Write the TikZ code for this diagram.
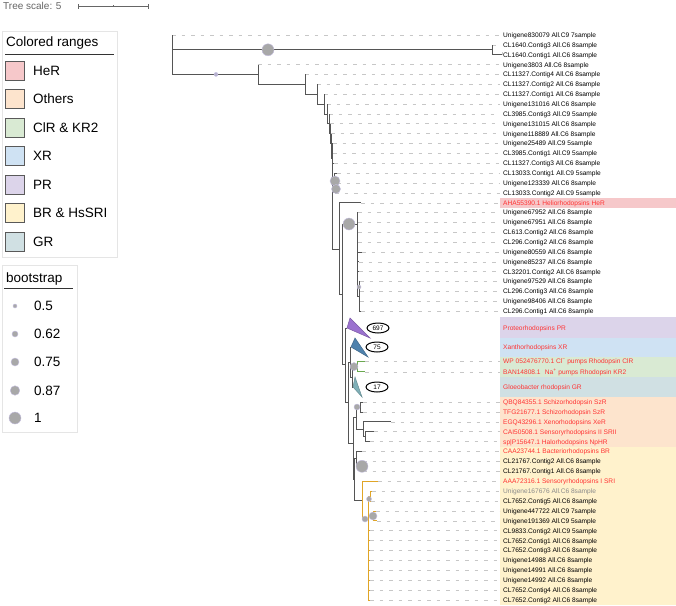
\documentclass[tikz,border=0pt]{standalone}
\usepackage{fontspec}
\setmainfont{Liberation Sans}
\usetikzlibrary{shapes.geometric}
\definecolor{bandHeR}{HTML}{F6C8CA}
\definecolor{bandOth}{HTML}{FDE4CD}
\definecolor{bandClR}{HTML}{D9EAD3}
\definecolor{bandXR}{HTML}{CFE2F3}
\definecolor{bandPR}{HTML}{DCD4EA}
\definecolor{bandBR}{HTML}{FFF2CC}
\definecolor{bandGR}{HTML}{D0E0E3}
\definecolor{redlab}{HTML}{FF3333}
\definecolor{graylab}{HTML}{8A8A8A}
\definecolor{brc}{HTML}{555555}
\definecolor{goldc}{HTML}{E0A526}
\definecolor{grnc}{HTML}{6AA84F}
\definecolor{bsfill}{HTML}{A8A8A8}
\definecolor{bsedge}{HTML}{C4BEE0}
\definecolor{prc}{HTML}{9B72CF}
\definecolor{xrc}{HTML}{4F82AD}
\definecolor{grc}{HTML}{7FB0B8}
\tikzset{
 br/.style={draw=brc, line width=0.75pt},
 gbr/.style={draw=goldc, line width=0.75pt},
 grbr/.style={draw=grnc, line width=0.75pt},
 lead/.style={draw=black!22, line width=0.5pt, dash pattern=on 3.5pt off 6pt, shorten >=2.5pt},
 lab/.style={font=\fontsize{6.6}{7}\selectfont, anchor=west, inner xsep=1pt, inner ysep=0pt, text height=4.8pt, text depth=0pt},
 bs/.style={circle, fill=bsfill, draw=bsedge, line width=0.4pt, inner sep=0pt, minimum size=#1},
 bs/.default=6pt,
 ell/.style={ellipse, draw=black, line width=1pt, fill=white, minimum width=22pt, minimum height=10pt, inner sep=0pt, font=\fontsize{6.5}{7}\selectfont},
 leg/.style={font=\fontsize{13.5}{15}\selectfont, anchor=base west, inner sep=0pt},
 sw/.style={draw=black!65, line width=0.9pt, minimum size=19pt, inner sep=0pt},
}
\newcommand\lf[5]{%
 \coordinate (t#1) at (#3,#2);
 \node[lab,text=#4] (l#1) at (502,#2) {#5};
 \draw[lead] (t#1) -- (l#1.west);}
\newcommand\lfc[4]{%
 \node[lab,text=#3] (l#1) at (502,#2) {#4};}
\newcommand\eb[3][br]{\draw[#1] (#2) |- (#3);}
\begin{document}
\begin{tikzpicture}[x=1pt,y=-1pt]
\useasboundingbox (0,0) rectangle (676,605);
\fill[white] (0,0) rectangle (676,605);
% colored bands
\fill[bandHeR] (500,198) rectangle (676,208);
\fill[bandPR] (500,317) rectangle (676,337.5);
\fill[bandXR] (500,337.5) rectangle (676,357);
\fill[bandClR] (500,357) rectangle (676,377);
\fill[bandGR] (500,377) rectangle (676,396.5);
\fill[bandOth] (500,396.5) rectangle (676,446.5);
\fill[bandBR] (500,446.5) rectangle (676,605);
% tree scale
\node[font=\fontsize{10}{12}\selectfont, text=black!60, anchor=west, inner sep=0pt] (ts) at (3,6) {Tree scale: 5};
\coordinate (sb1) at (78,6); \coordinate (sb2) at (148,6); \coordinate (sbm) at (113,6);
\draw[black!60, line width=0.8pt] (sb1) -- (sb2);
\draw[black!60, line width=0.8pt] ([yshift=-2.5pt]sb1) -- ([yshift=2.5pt]sb1);
\draw[black!60, line width=0.8pt] ([yshift=-2.5pt]sb2) -- ([yshift=2.5pt]sb2);
\draw[black!60, line width=0.6pt] (sbm) -- ([yshift=1.5pt]sbm);
% legend colored ranges
\draw[black!10, line width=0.6pt] (2,31) rectangle (117,257);
\node[leg] (lt1) at (6,46.5) {Colored ranges};
\draw[black!80, line width=0.9pt] (5,54) -- (114,54);
\node[sw, fill=bandHeR] (s1) at (14.5,70.5) {};   \node[leg] (g1) at (33,75.4) {HeR};
\node[sw, fill=bandOth] (s2) at (14.5,99) {};     \node[leg] (g2) at (33,103.9) {Others};
\node[sw, fill=bandClR] (s3) at (14.5,127.5) {};  \node[leg] (g3) at (33,132.4) {ClR \& KR2};
\node[sw, fill=bandXR] (s4) at (14.5,156) {};     \node[leg] (g4) at (33,160.9) {XR};
\node[sw, fill=bandPR] (s5) at (14.5,184.5) {};   \node[leg] (g5) at (33,189.4) {PR};
\node[sw, fill=bandBR] (s6) at (14.5,213) {};     \node[leg] (g6) at (33,217.9) {BR \& HsSRI};
\node[sw, fill=bandGR] (s7) at (14.5,241.5) {};   \node[leg] (g7) at (33,246.4) {GR};
% legend bootstrap
\draw[black!10, line width=0.6pt] (2,265) rectangle (77,432);
\node[leg] (lt2) at (6,282.5) {bootstrap};
\draw[black!80, line width=0.9pt] (4,288) -- (73,288);
\node[bs=4pt] (c1) at (15,306) {};   \node[leg] (v1) at (34,310.8) {0.5};
\node[bs=6pt] (c2) at (15,334) {};   \node[leg] (v2) at (34,338.8) {0.62};
\node[bs=8pt] (c3) at (15,362) {};   \node[leg] (v3) at (34,366.8) {0.75};
\node[bs=9.5pt] (c4) at (15,390.5) {}; \node[leg] (v4) at (34,395.3) {0.87};
\node[bs=12pt] (c5) at (15,418) {};  \node[leg] (v5) at (34,422.8) {1};
% leaves
\lf{1}{35}{172}{black}{Unigene830079 All.C9 7sample}
\lf{2}{44.9}{492}{black}{CL1640.Contig3 All.C6 8sample}
\lf{3}{54.7}{502}{black}{CL1640.Contig1 All.C6 8sample}
\lf{4}{64.6}{258}{black}{Unigene3803 All.C6 8sample}
\lf{5}{74.4}{305}{black}{CL11327.Contig4 All.C6 8sample}
\lf{6}{84.3}{317}{black}{CL11327.Contig2 All.C6 8sample}
\lf{7}{94.2}{324}{black}{CL11327.Contig1 All.C6 8sample}
\lf{8}{104}{327}{black}{Unigene131016 All.C6 8sample}
\lf{9}{113.9}{329}{black}{CL3985.Contig3 All.C9 5sample}
\lf{10}{123.7}{330}{black}{Unigene131015 All.C6 8sample}
\lf{11}{133.6}{331}{black}{Unigene118889 All.C6 8sample}
\lf{12}{143.5}{333}{black}{Unigene25489 All.C9 5sample}
\lf{13}{153.3}{333}{black}{CL3985.Contig1 All.C9 5sample}
\lf{14}{163.2}{334}{black}{CL11327.Contig3 All.C6 8sample}
\lf{15}{173}{337}{black}{CL13033.Contig1 All.C9 5sample}
\lf{16}{182.9}{337}{black}{Unigene123339 All.C6 8sample}
\lf{17}{192.8}{335}{black}{CL13033.Contig2 All.C9 5sample}
\lf{18}{202.8}{361}{redlab}{AHA55390.1 Heliorhodopsins HeR}
\lf{19}{212.5}{358}{black}{Unigene67952 All.C6 8sample}
\lf{20}{222.3}{358}{black}{Unigene67951 All.C6 8sample}
\lf{21}{232.2}{358}{black}{CL613.Contig2 All.C6 8sample}
\lf{22}{242}{358}{black}{CL296.Contig2 All.C6 8sample}
\lf{23}{251.9}{362}{black}{Unigene80559 All.C6 8sample}
\lf{24}{261.8}{359}{black}{Unigene85237 All.C6 8sample}
\lf{25}{271.6}{359}{black}{CL32201.Contig2 All.C6 8sample}
\lf{26}{281.5}{360}{black}{Unigene97529 All.C6 8sample}
\lf{27}{291.3}{360}{black}{CL296.Contig3 All.C6 8sample}
\lf{28}{301.2}{360}{black}{Unigene98406 All.C6 8sample}
\lf{29}{311}{361}{black}{CL296.Contig1 All.C6 8sample}
\lfc{30}{328}{redlab}{Proteorhodopsins PR}
\lfc{31}{347}{redlab}{Xanthorhodopsins XR}
\lf{32}{361.5}{365}{redlab}{WP 052476770.1 Cl\textsuperscript{−} pumps Rhodopsin ClR}
\lf{33}{371.8}{365}{redlab}{BAN14808.1\hspace{2.5pt} Na\textsuperscript{+} pumps Rhodopsin KR2}
\lfc{34}{387}{redlab}{Gloeobacter rhodopsin GR}
\lf{35}{402}{363}{redlab}{QBQ84355.1 Schizorhodopsin SzR}
\lf{36}{411.9}{363}{redlab}{TFG21677.1 Schizorhodopsin SzR}
\lf{37}{421.8}{391}{redlab}{EGQ43296.1 Xenorhodopsins XeR}
\lf{38}{431.7}{374}{redlab}{CAI50508.1 Sensoryrhodopsins II SRII}
\lf{39}{441.6}{370}{redlab}{sp|P15647.1 Halorhodopsins NpHR}
\lf{40}{451.5}{362}{redlab}{CAA23744.1 Bacteriorhodopsins BR}
\lf{41}{461.4}{363}{black}{CL21767.Contig2 All.C6 8sample}
\lf{42}{471.3}{363}{black}{CL21767.Contig1 All.C6 8sample}
\lf{43}{481.2}{378}{redlab}{AAA72316.1 Sensoryrhodopsins I SRI}
\lf{44}{491.1}{372}{graylab}{Unigene167676 All.C6 8sample}
\lf{45}{501}{371}{black}{CL7652.Contig5 All.C6 8sample}
\lf{46}{510.9}{376}{black}{Unigene447722 All.C9 7sample}
\lf{47}{520.8}{377}{black}{Unigene191369 All.C9 5sample}
\lf{48}{530.7}{370}{black}{CL9833.Contig2 All.C9 5sample}
\lf{49}{540.6}{370}{black}{CL7652.Contig1 All.C6 8sample}
\lf{50}{550.5}{370}{black}{CL7652.Contig3 All.C6 8sample}
\lf{51}{560.4}{370}{black}{Unigene14988 All.C6 8sample}
\lf{52}{570.3}{370}{black}{Unigene14991 All.C6 8sample}
\lf{53}{580.2}{370}{black}{Unigene14992 All.C6 8sample}
\lf{54}{590.1}{370}{black}{CL7652.Contig4 All.C6 8sample}
\lf{55}{600}{370}{black}{CL7652.Contig2 All.C6 8sample}
% internal nodes
\coordinate (r0) at (172,55);
\coordinate (nC) at (492,49.8);
\coordinate (n1) at (258,74.4);
\coordinate (n2) at (305,84.3);
\coordinate (n3) at (317,94.2);
\coordinate (n4) at (324,104);
\coordinate (n5) at (327,113.9);
\coordinate (n6) at (329,123.7);
\coordinate (n7) at (330,133.6);
\coordinate (n8) at (331,143.5);
\coordinate (n9) at (332,158);
\coordinate (nA) at (334,178);
\coordinate (nM) at (339,249);
\coordinate (nR) at (342,294);
\coordinate (nQ) at (357,224);
\coordinate (nQ2) at (359,296);
\coordinate (nK1) at (345,364);
\coordinate (nK2) at (348,402);
\coordinate (nU) at (350,362);
\coordinate (nV) at (352,377);
\coordinate (nW) at (357,366.6);
\coordinate (nK3) at (353,443);
\coordinate (nX) at (356,417);
\coordinate (nSz) at (360,407);
\coordinate (nY) at (363,429);
\coordinate (nZ) at (365,436.6);
\coordinate (nK4) at (354,479);
\coordinate (nK5) at (356,458);
\coordinate (nCL) at (360,466.3);
\coordinate (nY1) at (362,500);
\coordinate (nY2) at (368,519);
\coordinate (nY3) at (370,496);
\coordinate (nY5) at (373,515.8);
\coordinate (aPR) at (347,328);
\coordinate (aXR) at (351,347);
\coordinate (aGR) at (353,387);
% edges
\eb{r0}{t1} \eb{r0}{nC} \eb{r0}{n1}
\eb{nC}{t2} \eb{nC}{t3}
\eb{n1}{t4} \eb{n1}{n2}
\eb{n2}{t5} \eb{n2}{n3}
\eb{n3}{t6} \eb{n3}{n4}
\eb{n4}{t7} \eb{n4}{n5}
\eb{n5}{t8} \eb{n5}{n6}
\eb{n6}{t9} \eb{n6}{n7}
\eb{n7}{t10} \eb{n7}{n8}
\eb{n8}{t11} \eb{n8}{n9}
\eb{n9}{t12} \eb{n9}{t13} \eb{n9}{t14} \eb{n9}{nA} \eb{n9}{t17} \eb{n9}{nM}
\eb{nA}{t15} \eb{nA}{t16}
\eb{nM}{t18} \eb{nM}{nR}
\eb{nR}{nQ} \eb{nR}{nK1}
\eb{nQ}{t19} \eb{nQ}{t20} \eb{nQ}{t21} \eb{nQ}{t22} \eb{nQ}{t23} \eb{nQ}{t24} \eb{nQ}{t25} \eb{nQ}{nQ2}
\eb{nQ2}{t26} \eb{nQ2}{t27} \eb{nQ2}{t28} \eb{nQ2}{t29}
\eb{nK1}{aPR} \eb{nK1}{nK2}
\eb{nK2}{nU} \eb{nK2}{nK3}
\eb{nU}{aXR} \eb{nU}{nV}
\eb{nV}{nW} \eb{nV}{aGR}
\eb[grbr]{nW}{t32} \eb[grbr]{nW}{t33}
\eb{nK3}{nX} \eb{nK3}{nK4}
\eb{nX}{nSz} \eb{nX}{nY}
\eb{nSz}{t35} \eb{nSz}{t36}
\eb{nY}{t37} \eb{nY}{nZ}
\eb{nZ}{t38} \eb{nZ}{t39}
\eb{nK4}{nK5} \eb{nK4}{nY1}
\eb{nK5}{t40} \eb{nK5}{nCL}
\eb{nCL}{t41} \eb{nCL}{t42}
\eb[gbr]{nY1}{t43} \eb[gbr]{nY1}{nY2}
\eb[gbr]{nY2}{nY3} \eb[gbr]{nY2}{nY5}
\eb[gbr]{nY2}{t48} \eb[gbr]{nY2}{t49} \eb[gbr]{nY2}{t50} \eb[gbr]{nY2}{t51}
\eb[gbr]{nY2}{t52} \eb[gbr]{nY2}{t53} \eb[gbr]{nY2}{t54} \eb[gbr]{nY2}{t55}
\eb[gbr]{nY3}{t44} \eb[gbr]{nY3}{t45}
\eb[gbr]{nY5}{t46} \eb[gbr]{nY5}{t47}
% collapsed clades
\draw[fill=prc, draw=prc!80!black, line width=0.5pt] (aPR) -- (350,318) -- (370,338) -- cycle;
\draw[fill=xrc, draw=xrc!80!black, line width=0.5pt] (aXR) -- (355,338) -- (368,357) -- cycle;
\draw[fill=grc, draw=grc!80!black, line width=0.5pt] (aGR) -- (355,377) -- (362,397) -- cycle;
\node[ell] (o1) at (378,328) {697};
\node[ell] (o2) at (377,347) {75};
\node[ell] (o3) at (377,387) {17};
% bootstrap symbols
\node[bs=12pt] (b1) at (268,49.8) {};
\node[bs=4pt, fill=bsedge!80!gray] (b2) at (216,74.4) {};
\node[bs=10pt] (b3) at (335,181) {};
\node[bs=9pt] (b4) at (336,189) {};
\node[bs=12pt] (b5) at (349,224) {};
\node[bs=4pt] (b6) at (359,287) {};
\node[bs=8pt] (b7) at (354,366.6) {};
\node[bs=6pt] (b8) at (357,407) {};
\node[bs=12pt] (b9) at (362,466.3) {};
\node[bs=5pt] (b10) at (369,499) {};
\node[bs=8pt] (b11) at (373,516) {};
\node[bs=6pt] (b12) at (365,519) {};
\end{tikzpicture}
\end{document}
